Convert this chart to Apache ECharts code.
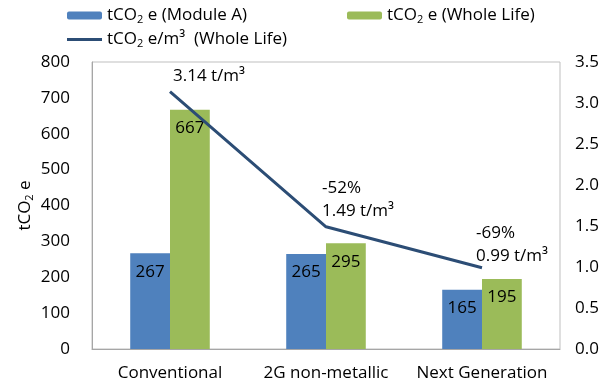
<!DOCTYPE html>
<html>
<head>
<meta charset="utf-8">
<script src="https://cdn.jsdelivr.net/npm/echarts@6/dist/echarts.min.js"></script>
<style>
  html, body { margin: 0; padding: 0; background: #fff; }
  #chart { width: 614px; height: 387px; }
</style>
</head>
<body>
<div id="chart"></div>
<script>
// Embodied carbon by design option
const categories = ['Conventional', '2G non-metallic', 'Next Generation'];
const moduleA = [267, 265, 165];          // tCO2e, module A
const wholeLife = [667, 295, 195];        // tCO2e, whole life
const intensity = [3.14, 1.49, 0.99];     // tCO2e per m3, whole life
const changeLabels = ['', '-52%', '-69%'];
const leftTicks = { min: 0, max: 800, interval: 100 };
const rightTicks = { min: 0, max: 3.5, interval: 0.5 };

const FONT = 'Open Sans';
const LINE_COLOR = '#2c4d75';
const rich = {
  n: { fontFamily: FONT, fontSize: 17, color: '#000' },
  s: { fontFamily: FONT, fontSize: 11, color: '#000', padding: [9, 0, 0, 0] }
};

const legendText = {
  modA: '{n|tCO}{s|2}{n| e (Module A)}',
  whole: '{n|tCO}{s|2}{n| e (Whole Life)}',
  perM3: '{n|tCO}{s|2}{n| e/m³  (Whole Life)}'
};

// label placement for the intensity line, relative to each point
const lineLabelPlacement = [
  { position: [3, -15] },
  { position: [-4, -27] },
  { position: [-6, -23] }
];

const chart = echarts.init(document.getElementById('chart'), null, { renderer: 'canvas' });

function legendFor(name, left, top, extra) {
  return Object.assign({
    data: [name],
    left: left, top: top,
    itemWidth: 35, itemHeight: 8,
    itemGap: 0,
    padding: 0,
    formatter: n => legendText[n],
    textStyle: { rich: rich, fontFamily: FONT, fontSize: 17 }
  }, extra || {});
}

chart.setOption({
  animation: false,
  textStyle: { fontFamily: FONT },
  legend: [
    legendFor('modA', 67, 7),
    legendFor('whole', 347, 7),
    legendFor('perM3', 67, 31, {
      icon: 'rect', itemHeight: 3,
      itemStyle: { color: LINE_COLOR }
    })
  ],
  grid: {
    left: 92, right: 54, top: 62, bottom: 38,
    show: true, borderColor: '#bfbfbf', borderWidth: 1
  },
  xAxis: {
    type: 'category',
    data: categories,
    axisLine: { lineStyle: { color: '#a6a6a6' } },
    axisTick: { show: false },
    axisLabel: { color: '#000', fontSize: 17, fontFamily: FONT, margin: 16, interval: 0 }
  },
  yAxis: [
    {
      type: 'value',
      min: leftTicks.min, max: leftTicks.max, interval: leftTicks.interval,
      name: '{n|tCO}{s|2}{n| e}',
      nameLocation: 'middle',
      nameGap: 57,
      nameMoveOverlap: false,
      nameRotate: 90,
      nameTextStyle: { rich: rich },
      axisLine: { show: true, lineStyle: { color: '#a6a6a6' } },
      axisTick: { show: false },
      splitLine: { show: false },
      axisLabel: { color: '#000', fontSize: 17, fontFamily: FONT, margin: 22 }
    },
    {
      type: 'value',
      min: rightTicks.min, max: rightTicks.max, interval: rightTicks.interval,
      axisLine: { show: false },
      axisTick: { show: false },
      splitLine: { show: false },
      axisLabel: {
        color: '#000', fontSize: 17, fontFamily: FONT, margin: 15,
        formatter: v => v.toFixed(1)
      }
    }
  ],
  series: [
    {
      name: 'modA', type: 'bar', data: moduleA,
      barGap: '0%', barCategoryGap: '49%',
      itemStyle: { color: '#4f81bd' },
      label: { show: true, position: 'insideTop', distance: 10, color: '#000', fontSize: 17, fontFamily: FONT }
    },
    {
      name: 'whole', type: 'bar', data: wholeLife,
      barGap: '0%', barCategoryGap: '49%',
      itemStyle: { color: '#9bbb59' },
      label: { show: true, position: 'insideTop', distance: 10, color: '#000', fontSize: 17, fontFamily: FONT }
    },
    {
      name: 'perM3', type: 'line', yAxisIndex: 1,
      symbol: 'circle', symbolSize: 0, showSymbol: true,
      lineStyle: { color: LINE_COLOR, width: 3 },
      itemStyle: { color: LINE_COLOR },
      data: intensity.map((v, i) => ({
        value: v,
        label: Object.assign({
          show: true,
          align: 'left',
          verticalAlign: 'middle',
          lineHeight: 23,
          color: '#000', fontSize: 17, fontFamily: FONT,
          formatter: (changeLabels[i] ? changeLabels[i] + '\n' : '') + v.toFixed(2) + ' t/m³'
        }, lineLabelPlacement[i])
      }))
    }
  ]
});
</script>
</body>
</html>
